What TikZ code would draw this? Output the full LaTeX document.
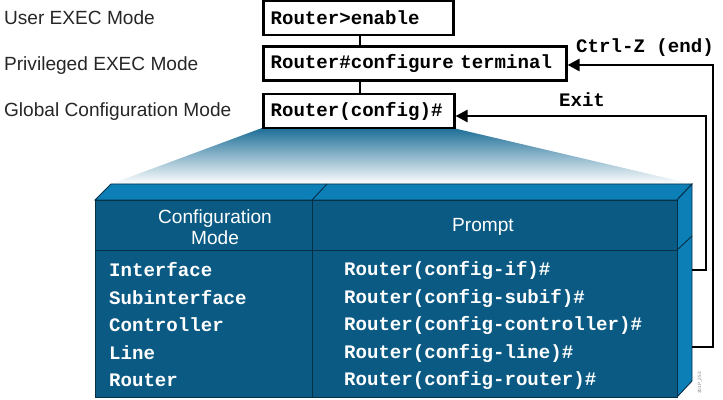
\documentclass[tikz,border=0pt]{standalone}
\usepackage{fontspec}
\setmainfont{Liberation Sans}
\setmonofont{Liberation Mono}
\usetikzlibrary{calc, arrows.meta}

\definecolor{topblue}{HTML}{0B7FB6}
\definecolor{faceblue}{HTML}{0A5A84}
\definecolor{edgeblue}{HTML}{062F48}
\definecolor{spotblue}{HTML}{1D6E97}

\tikzset{
    modetext/.style={font=\fontsize{16.3}{19}\selectfont, text=black!85},
    cmdbox/.style={draw=black, line width=2.2pt, fill=white, anchor=west, inner xsep=0.22cm,
        minimum height=1.02cm, align=left, font=\fontsize{16.3}{19}\selectfont\ttfamily\bfseries},
    cmdlabel/.style={font=\fontsize{16.3}{19}\selectfont\ttfamily\bfseries},
    link/.style={line width=2.2pt},
    backarrow/.style={line width=2.2pt, -{Triangle[length=0.36cm, width=0.36cm]}},
    facecell/.style={draw=edgeblue, line width=0.8pt},
    headtext/.style={font=\fontsize{16.3}{17.5}\selectfont, text=white, align=center},
    rowtext/.style={anchor=west, font=\fontsize{16.3}{19}\selectfont\ttfamily\bfseries, text=white}
}

\begin{document}
\begin{tikzpicture}[x=0.03cm, y=-0.03cm]
        \useasboundingbox (0,0) rectangle (723,400);

        \coordinate (FL) at (95,200);
        \coordinate (FR) at (677,200);
        \coordinate (BL) at (95,397);
        \coordinate (BR) at (677,397);
        \coordinate (TL) at (111,184);
        \coordinate (TR) at (692,184);
        \coordinate (SR) at (692,381);

        % spotlight from the global config box
        \shade[top color=spotblue, bottom color=white] (262,128) -- (453,128) -- (TR) -- (TL) -- cycle;

        \filldraw[facecell, fill=topblue] (FL) -- (TL) -- (TR) -- (FR) -- cycle;
        \filldraw[facecell, fill=topblue] (FR) -- (TR) -- (SR) -- (BR) -- cycle;
        \filldraw[facecell, fill=faceblue] (FL) rectangle (BR);
        \draw[facecell] (312,200) -- (327,184);
        \draw[facecell] (312,200) -- (312,397);
        \draw[facecell] (95,250) -- (677,250);
        \draw[facecell] (677,250) -- (692,236);

        \node[modetext, anchor=west] (lusr) at (0,18) {User EXEC Mode};
        \node[modetext, anchor=west] (lpriv) at (0,66) {Privileged EXEC Mode};
        \node[modetext, anchor=west] (lcfg) at (0,112) {Global Configuration Mode};

        \node[cmdbox, minimum width=5.7cm, text width=5.26cm] (usr) at (262,18) {\mbox{Router>enable}};
        \node[cmdbox, minimum width=9.09cm, text width=8.65cm] (priv) at (262,63.5) {\mbox{Router\#configure terminal}};
        \node[cmdbox, minimum width=5.73cm, text width=5.29cm] (cfg) at (262,111) {\mbox{Router(config)\#}};

        \draw[link] (usr.south -| 360,0) -- (priv.north -| 360,0);
        \draw[link] (priv.south -| 360,0) -- (cfg.north -| 360,0);

        \coordinate (ctrlzfoot) at (692,347);
        \coordinate (exitfoot) at (692,270);
        \draw[backarrow] (ctrlzfoot) -- (713,347) |- ($(priv.east)+(0,1.5)$);
        \draw[backarrow] (exitfoot) -- (706,270) |- ($(cfg.east)+(0,5)$);

        \node[cmdlabel] (lblctrlz) at (645,48) {Ctrl-Z (end)};
        \node[cmdlabel] (lblexit) at (582,100) {Exit};

        \node[headtext] (hmode) at (215,227) {Configuration\\Mode};
        \node[headtext] (hprompt) at (483,227) {Prompt};

        \node[rowtext] (mif) at (105,270) {Interface};
        \node[rowtext] (msubif) at (105,298) {Subinterface};
        \node[rowtext] (mctrl) at (105,325) {Controller};
        \node[rowtext] (mline) at (105,353) {Line};
        \node[rowtext] (mrouter) at (105,380) {Router};

        \node[rowtext] (pif) at (340,270) {Router(config-if)\#};
        \node[rowtext] (psubif) at (340,298) {Router(config-subif)\#};
        \node[rowtext] (pctrl) at (340,325) {Router(config-controller)\#};
        \node[rowtext] (pline) at (340,353) {Router(config-line)\#};
        \node[rowtext] (prouter) at (340,380) {Router(config-router)\#};

        \node[rotate=90, font=\fontsize{4}{5}\selectfont, text=black!50] (figid) at (700,383) {301P\_253};
    \end{tikzpicture}
\end{document}
